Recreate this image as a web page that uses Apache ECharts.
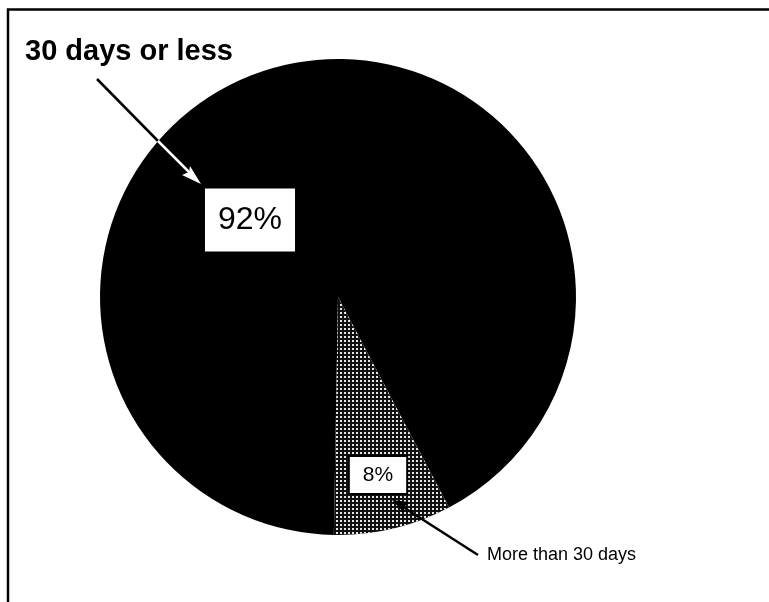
<!DOCTYPE html>
<html>
<head>
<meta charset="utf-8">
<script src="https://cdn.jsdelivr.net/npm/echarts@6/dist/echarts.min.js"></script>
<style>
html,body{margin:0;padding:0;background:#fff;}
#chart{width:769px;height:602px;}
</style>
</head>
<body>
<div id="chart"></div>
<script>
// ---- data ----
const categories = ['30 days or less', 'More than 30 days'];
const values = [92, 8];
const valueLabels = ['92%', '8%'];

// ---- layout / style ----
const CX = 338, CY = 297, R = 238;
const chart = echarts.init(document.getElementById('chart'), null, {renderer: 'canvas'});

const labelPos = [
  {x: 250, y: 220},
  {x: 378, y: 475}
];

const option = {
  backgroundColor: '#fff',
  animation: false,
  series: [{
    type: 'pie',
    center: [CX, CY],
    radius: [0, R],
    startAngle: -91,
    clockwise: true,
    silent: true,
    emphasis: {disabled: true},
    labelLine: {show: false},
    label: {
      show: true,
      position: 'inside',
      formatter: function (p) { return valueLabels[p.dataIndex]; },
      color: '#000',
      backgroundColor: '#fff',
      fontFamily: 'Liberation Sans, Arial, sans-serif'
    },
    labelLayout: function (params) {
      const p = labelPos[params.dataIndex];
      return {x: p.x, y: p.y, align: 'center', verticalAlign: 'middle'};
    },
    data: [
      {
        name: categories[0], value: values[0],
        itemStyle: {color: '#000'},
        label: {fontSize: 32, lineHeight: 32, padding: [16, 13, 15, 13]}
      },
      {
        name: categories[1], value: values[1],
        itemStyle: {
          color: '#111',
          decal: {
            symbol: 'rect',
            symbolSize: 1,
            color: '#e6e6e6',
            dashArrayX: [1.5, 1.5],
            dashArrayY: [1.5, 1.5],
            rotation: 0
          }
        },
        label: {fontSize: 21, lineHeight: 21, padding: [8, 13, 7, 13], borderColor: '#000', borderWidth: 2}
      }
    ]
  }],
  graphic: [
    // frame
    {type: 'rect', shape: {x: 8, y: 9.5, width: 800, height: 700},
     style: {fill: 'none', stroke: '#000', lineWidth: 2.5}, silent: true, z: 10},
    // title annotation
    {type: 'text', left: 25, top: 37, z: 10,
     style: {text: categories[0], font: 'bold 29px "Liberation Sans", Arial, sans-serif', fill: '#000'}},
    // arrow to 92% (black outside pie, white inside)
    {type: 'line', z: 10, shape: {x1: 97, y1: 79, x2: 158, y2: 141},
     style: {stroke: '#000', lineWidth: 2.5}},
    {type: 'line', z: 10, shape: {x1: 158, y1: 141, x2: 195, y2: 178},
     style: {stroke: '#fff', lineWidth: 2.5}},
    {type: 'polygon', z: 10, shape: {points: [[201, 184], [182, 175], [189, 172], [190, 166]]},
     style: {fill: '#fff'}},
    // annotation for 8%
    {type: 'text', left: 487, top: 546, z: 10,
     style: {text: categories[1], font: '18px "Liberation Sans", Arial, sans-serif', fill: '#000'}},
    {type: 'line', z: 10, shape: {x1: 478, y1: 555, x2: 400, y2: 505},
     style: {stroke: '#000', lineWidth: 2.5}},
    {type: 'polygon', z: 10, shape: {points: [[392, 500], [409, 502], [404, 507], [404, 513]]},
     style: {fill: '#000'}}
  ]
};
chart.setOption(option);
</script>
</body>
</html>
